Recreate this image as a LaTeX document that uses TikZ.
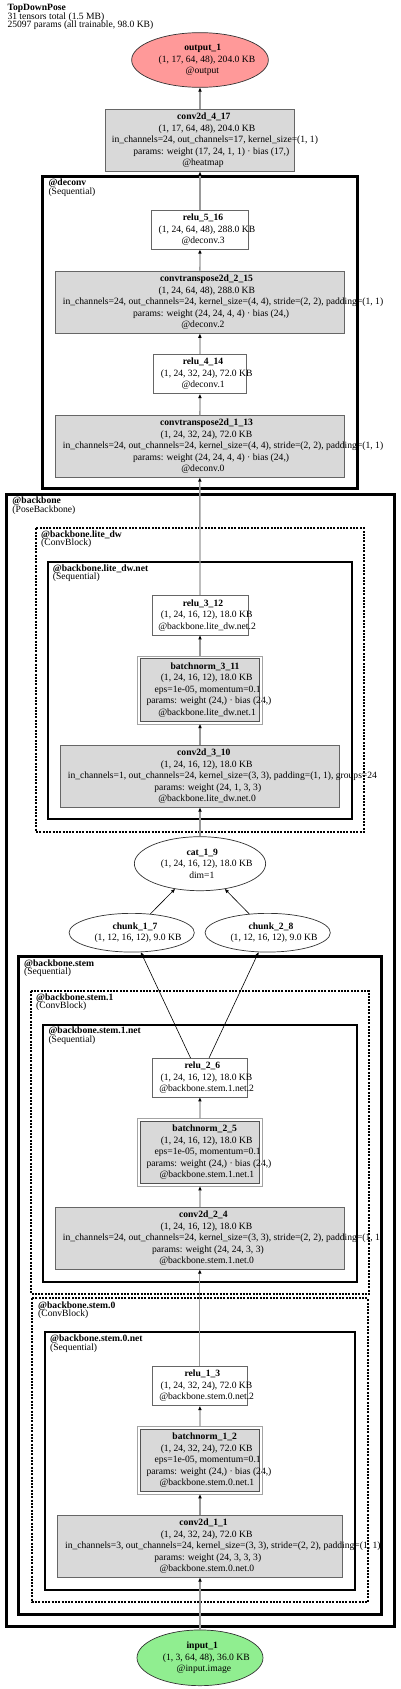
\documentclass[tikz,border=0pt]{standalone}
\usepackage{fontspec}
\setmainfont{Liberation Serif}
\usetikzlibrary{shapes.geometric,arrows.meta}
\definecolor{outred}{RGB}{255,153,153}
\definecolor{ingreen}{RGB}{144,238,144}
\definecolor{opgray}{RGB}{217,217,217}
\definecolor{edgegray}{RGB}{153,153,153}
\definecolor{boxline}{RGB}{102,102,102}
\newcommand\gl[1]{\makebox[0.855\width][l]{#1}}
\newcommand\labelfont{\fontsize{9.6}{8.6}\selectfont\lineskiplimit -5pt\relax}
\begin{document}
\begin{tikzpicture}[x=1pt,y=-1pt,
 txt/.style={font=\fontsize{9.6}{11.5}\selectfont, align=center, inner sep=0pt},
 opbox/.style={txt, rectangle, draw=boxline, fill=opgray, line width=0.8pt},
 plainbox/.style={txt, rectangle, draw=boxline, fill=white, line width=0.8pt},
 bnbox/.style={txt, rectangle, draw=boxline!80!black, fill=opgray, line width=0.8pt},
 bnouter/.style={draw=boxline!60, line width=0.8pt},
 ell/.style={txt, ellipse, draw=black!80, line width=0.7pt},
 cluster/.style={draw=black, line width=3pt},
 netcluster/.style={draw=black, line width=2pt},
 dashcluster/.style={draw=black, line width=2.3pt, dash pattern=on 2pt off 1.3pt},
 clabel/.style={font=\labelfont, align=left, inner sep=0pt, anchor=north west},
 spine/.style={draw=edgegray, line width=1.3pt, -{Triangle[length=4pt,width=3.2pt,color=black]}},
 thinedge/.style={draw=black, line width=0.6pt, -{Triangle[length=4pt,width=3.2pt,color=black]}},
]
\useasboundingbox (0,0) rectangle (400,1689);

% title
\node[clabel] (title) at (7.3,4.3) {\textbf{TopDownPose}\\31 tensors total (1.5 MB)\\25097 params (all trainable, 98.0 KB)};

% clusters
\draw[cluster] (42.3,176) rectangle (357.3,488.3);
\node[clabel] (lbldeconv) at (48.3,178.9) {\textbf{@deconv}\\(Sequential)};
\draw[cluster] (6,494.3) rectangle (394,1626);
\node[clabel] (lblbackbone) at (12.3,496.6) {\textbf{@backbone}\\(PoseBackbone)};
\draw[dashcluster] (36,528.3) rectangle (364,831.7);
\node[clabel] (lbllitedw) at (41,530.3) {\textbf{@backbone.lite\_dw}\\(ConvBlock)};
\draw[netcluster] (47.7,562) rectangle (352.3,819.3);
\node[clabel] (lbllitedwnet) at (52.7,564.3) {\textbf{@backbone.lite\_dw.net}\\(Sequential)};
\draw[cluster] (18.3,956.7) rectangle (381,1614);
\node[clabel] (lblstem) at (24,959.3) {\textbf{@backbone.stem}\\(Sequential)};
\draw[dashcluster] (31,991) rectangle (369,1294);
\node[clabel] (lblstemone) at (36,993.3) {\textbf{@backbone.stem.1}\\(ConvBlock)};
\draw[netcluster] (43,1024.7) rectangle (357,1282);
\node[clabel] (lblstemonenet) at (48.3,1026.9) {\textbf{@backbone.stem.1.net}\\(Sequential)};
\draw[dashcluster] (32.3,1298.3) rectangle (367.7,1602.3);
\node[clabel] (lblstemzero) at (38,1301.3) {\textbf{@backbone.stem.0}\\(ConvBlock)};
\draw[netcluster] (44.7,1332.3) rectangle (355.3,1590);
\node[clabel] (lblstemzeronet) at (50,1334.9) {\textbf{@backbone.stem.0.net}\\(Sequential)};

% nodes
\node[ell, fill=outred, minimum width=136.7pt, minimum height=54.7pt] (output1) at (200,60)
 {\gl{\textbf{output\_1}}\\\gl{(1, 17, 64, 48), 204.0 KB}\\\gl{@output}};
\node[opbox, minimum width=189.4pt, minimum height=62.3pt] (conv417) at (200,140.2)
 {\gl{\textbf{conv2d\_4\_17}}\\\gl{(1, 17, 64, 48), 204.0 KB}\\\gl{in\_channels=24, out\_channels=17, kernel\_size=(1, 1)}\\\gl{params: weight (17, 24, 1, 1) · bias (17,)}\\\gl{@heatmap}};
\node[plainbox, minimum width=96.6pt, minimum height=38.6pt] (relu516) at (200,230)
 {\gl{\textbf{relu\_5\_16}}\\\gl{(1, 24, 64, 48), 288.0 KB}\\\gl{@deconv.3}};
\node[opbox, minimum width=289pt, minimum height=62.3pt] (ct215) at (199.8,302.2)
 {\gl{\textbf{convtranspose2d\_2\_15}}\\\gl{(1, 24, 64, 48), 288.0 KB}\\\gl{in\_channels=24, out\_channels=24, kernel\_size=(4, 4), stride=(2, 2), padding=(1, 1)}\\\gl{params: weight (24, 24, 4, 4) · bias (24,)}\\\gl{@deconv.2}};
\node[plainbox, minimum width=92.6pt, minimum height=39.4pt] (relu414) at (200,374)
 {\gl{\textbf{relu\_4\_14}}\\\gl{(1, 24, 32, 24), 72.0 KB}\\\gl{@deconv.1}};
\node[opbox, minimum width=289pt, minimum height=61.6pt] (ct113) at (199.8,446.5)
 {\gl{\textbf{convtranspose2d\_1\_13}}\\\gl{(1, 24, 32, 24), 72.0 KB}\\\gl{in\_channels=24, out\_channels=24, kernel\_size=(4, 4), stride=(2, 2), padding=(1, 1)}\\\gl{params: weight (24, 24, 4, 4) · bias (24,)}\\\gl{@deconv.0}};
\node[plainbox, minimum width=96pt, minimum height=39.7pt] (relu312) at (200,615.2)
 {\gl{\textbf{relu\_3\_12}}\\\gl{(1, 24, 16, 12), 18.0 KB}\\\gl{@backbone.lite\_dw.net.2}};
\node[bnbox, minimum width=119.6pt, minimum height=62.4pt] (bn311) at (200,690)
 {\gl{\textbf{batchnorm\_3\_11}}\\\gl{(1, 24, 16, 12), 18.0 KB}\\\gl{eps=1e-05, momentum=0.1}\\\gl{params: weight (24,) · bias (24,)}\\\gl{@backbone.lite\_dw.net.1}};
\draw[bnouter] ([shift={(-2.5,-2.5)}]bn311.north west) rectangle ([shift={(2.5,2.5)}]bn311.south east);
\node[opbox, minimum width=279.4pt, minimum height=62pt] (conv310) at (200,776.3)
 {\gl{\textbf{conv2d\_3\_10}}\\\gl{(1, 24, 16, 12), 18.0 KB}\\\gl{in\_channels=1, out\_channels=24, kernel\_size=(3, 3), padding=(1, 1), groups=24}\\\gl{params: weight (24, 1, 3, 3)}\\\gl{@backbone.lite\_dw.net.0}};
\node[ell, fill=white, minimum width=131.3pt, minimum height=54pt] (cat19) at (200,863.7)
 {\gl{\textbf{cat\_1\_9}}\\\gl{(1, 24, 16, 12), 18.0 KB}\\\gl{dim=1}};
\node[ell, fill=white, minimum width=125.3pt, minimum height=38.7pt] (chunk17) at (131.7,932.7)
 {\gl{\textbf{chunk\_1\_7}}\\\gl{(1, 12, 16, 12), 9.0 KB}};
\node[ell, fill=white, minimum width=125.3pt, minimum height=38.7pt] (chunk28) at (267.7,932.7)
 {\gl{\textbf{chunk\_2\_8}}\\\gl{(1, 12, 16, 12), 9.0 KB}};
\node[plainbox, minimum width=94.3pt, minimum height=38.7pt] (relu26) at (199.8,1077.7)
 {\gl{\textbf{relu\_2\_6}}\\\gl{(1, 24, 16, 12), 18.0 KB}\\\gl{@backbone.stem.1.net.2}};
\node[bnbox, minimum width=119.6pt, minimum height=62pt] (bn25) at (200,1152.5)
 {\gl{\textbf{batchnorm\_2\_5}}\\\gl{(1, 24, 16, 12), 18.0 KB}\\\gl{eps=1e-05, momentum=0.1}\\\gl{params: weight (24,) · bias (24,)}\\\gl{@backbone.stem.1.net.1}};
\draw[bnouter] ([shift={(-2.5,-2.5)}]bn25.north west) rectangle ([shift={(2.5,2.5)}]bn25.south east);
\node[opbox, minimum width=289pt, minimum height=62pt] (conv24) at (199.8,1238.3)
 {\gl{\textbf{conv2d\_2\_4}}\\\gl{(1, 24, 16, 12), 18.0 KB}\\\gl{in\_channels=24, out\_channels=24, kernel\_size=(3, 3), stride=(2, 2), padding=(1, 1)}\\\gl{params: weight (24, 24, 3, 3)}\\\gl{@backbone.stem.1.net.0}};
\node[plainbox, minimum width=94.3pt, minimum height=39.4pt] (relu13) at (199.8,1386)
 {\gl{\textbf{relu\_1\_3}}\\\gl{(1, 24, 32, 24), 72.0 KB}\\\gl{@backbone.stem.0.net.2}};
\node[bnbox, minimum width=119.6pt, minimum height=62.3pt] (bn12) at (200,1460.3)
 {\gl{\textbf{batchnorm\_1\_2}}\\\gl{(1, 24, 32, 24), 72.0 KB}\\\gl{eps=1e-05, momentum=0.1}\\\gl{params: weight (24,) · bias (24,)}\\\gl{@backbone.stem.0.net.1}};
\draw[bnouter] ([shift={(-2.5,-2.5)}]bn12.north west) rectangle ([shift={(2.5,2.5)}]bn12.south east);
\node[opbox, minimum width=285.4pt, minimum height=62pt] (conv11) at (200,1546.3)
 {\gl{\textbf{conv2d\_1\_1}}\\\gl{(1, 24, 32, 24), 72.0 KB}\\\gl{in\_channels=3, out\_channels=24, kernel\_size=(3, 3), stride=(2, 2), padding=(1, 1)}\\\gl{params: weight (24, 3, 3, 3)}\\\gl{@backbone.stem.0.net.0}};
\node[ell, fill=ingreen, minimum width=126pt, minimum height=55.7pt] (input1) at (200,1657.8)
 {\gl{\textbf{input\_1}}\\\gl{(1, 3, 64, 48), 36.0 KB}\\\gl{@input.image}};

% edges
\draw[spine] (input1) -- (conv11);
\draw[spine] (conv11) -- ([yshift=-2.5]bn12.south);
\draw[spine] ([yshift=2.5]bn12.north) -- (relu13);
\draw[spine] (relu13) -- (conv24);
\draw[spine] (conv24) -- ([yshift=-2.5]bn25.south);
\draw[spine] ([yshift=2.5]bn25.north) -- (relu26);
\draw[thinedge] (relu26) -- (chunk17);
\draw[thinedge] (relu26) -- (chunk28);
\draw[thinedge] (chunk17) -- (cat19);
\draw[thinedge] (chunk28) -- (cat19);
\draw[spine] (cat19) -- (conv310);
\draw[spine] (conv310) -- ([yshift=-2.5]bn311.south);
\draw[spine] ([yshift=2.5]bn311.north) -- (relu312);
\draw[spine] (relu312) -- (ct113);
\draw[spine] (ct113) -- (relu414);
\draw[spine] (relu414) -- (ct215);
\draw[spine] (ct215) -- (relu516);
\draw[spine] (relu516) -- (conv417);
\draw[spine] (conv417) -- (output1);
\end{tikzpicture}
\end{document}
